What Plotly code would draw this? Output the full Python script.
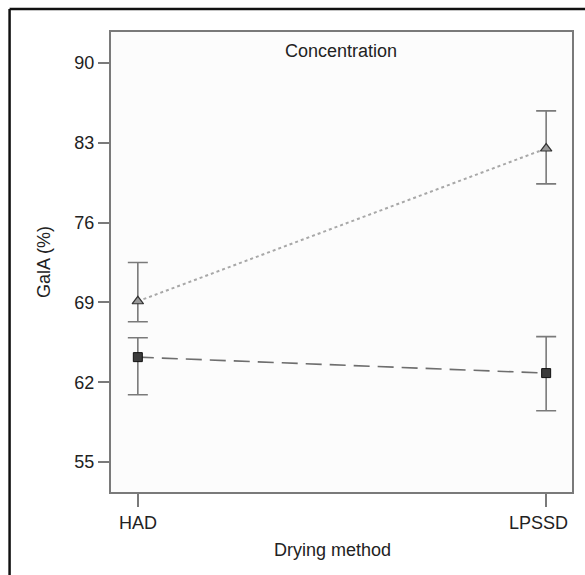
import plotly.graph_objects as go

categories = ["HAD", "LPSSD"]
x_pos = [0, 1]

tri_mean = [69.1, 82.5]
tri_hi = [72.5, 85.8]
tri_lo = [67.3, 79.4]

sq_mean = [64.2, 62.8]
sq_hi = [65.9, 66.0]
sq_lo = [60.9, 59.5]

y_ticks = [55, 62, 69, 76, 83, 90]

FONT = "Liberation Sans, Arial, sans-serif"
AX = "#7a7a7a"
TXT = "#222"

def err(mean, hi, lo):
    return dict(type="data", symmetric=False,
                array=[h - m for h, m in zip(hi, mean)],
                arrayminus=[m - l for m, l in zip(mean, lo)],
                color=AX, thickness=1.6, width=10)

fig = go.Figure()
fig.add_trace(go.Scatter(
    x=x_pos, y=tri_mean, mode="lines+markers",
    line=dict(color="#a8a8a8", width=2, dash="3px,3px"),
    marker=dict(symbol="triangle-up", size=10, color="#9a9a9a",
                line=dict(color="#333", width=1.2)),
    error_y=err(tri_mean, tri_hi, tri_lo), showlegend=False))
fig.add_trace(go.Scatter(
    x=x_pos, y=sq_mean, mode="lines+markers",
    line=dict(color="#6e6e6e", width=1.6, dash="16px,8px"),
    marker=dict(symbol="square", size=9, color="#3c3c3c",
                line=dict(color="#111", width=1)),
    error_y=err(sq_mean, sq_hi, sq_lo), showlegend=False))

annos = [
    dict(text="Concentration", x=0.498, y=0.959, xref="paper",
         yref="paper", xanchor="center", yanchor="middle",
         showarrow=False, font=dict(size=18, color=TXT)),
    dict(text="Drying method", x=0.481, y=-0.126, xref="paper",
         yref="paper", xanchor="center", yanchor="middle",
         showarrow=False, font=dict(size=18, color=TXT)),
]
# x tick labels (LPSSD shifted slightly left as in the reference)
for xv, lab, shift in zip(x_pos, categories, [0, -8]):
    annos.append(dict(text=lab, x=xv, xref="x", y=0, yref="paper",
                      yshift=-31, xshift=shift, xanchor="center",
                      yanchor="middle", showarrow=False,
                      font=dict(size=18, color=TXT)))

fig.update_layout(
    width=585, height=575,
    margin=dict(l=111, r=11, t=32, b=83),
    paper_bgcolor="white", plot_bgcolor="#fcfcfc",
    font=dict(family=FONT, size=18, color=TXT),
    annotations=annos,
    shapes=[
        dict(type="line", xref="paper", yref="paper", x0=-0.22, x1=1.1,
             y0=1.05, y1=1.05, line=dict(color="#111", width=2.5)),
        dict(type="line", xref="paper", yref="paper", x0=-0.22, x1=-0.22,
             y0=1.05, y1=-0.3, line=dict(color="#111", width=2.5)),
    ],
)
fig.update_xaxes(
    range=[-0.0657, 1.0633], tickvals=x_pos, ticktext=["", ""],
    showgrid=False, zeroline=False, showline=True, linecolor=AX, linewidth=2,
    mirror=True, ticks="outside", ticklen=13, tickcolor=AX, tickwidth=2,
    tickfont=dict(size=18, color=TXT))
fig.update_yaxes(
    range=[52.37, 92.72], tickvals=y_ticks,
    showgrid=False, zeroline=False, showline=True, linecolor=AX, linewidth=2,
    mirror=True, ticks="outside", ticklen=11, tickcolor=AX, tickwidth=2,
    title=dict(text="GalA (%)", standoff=19, font=dict(size=18)),
    tickfont=dict(size=18, color=TXT))

fig.write_html("out.html")
